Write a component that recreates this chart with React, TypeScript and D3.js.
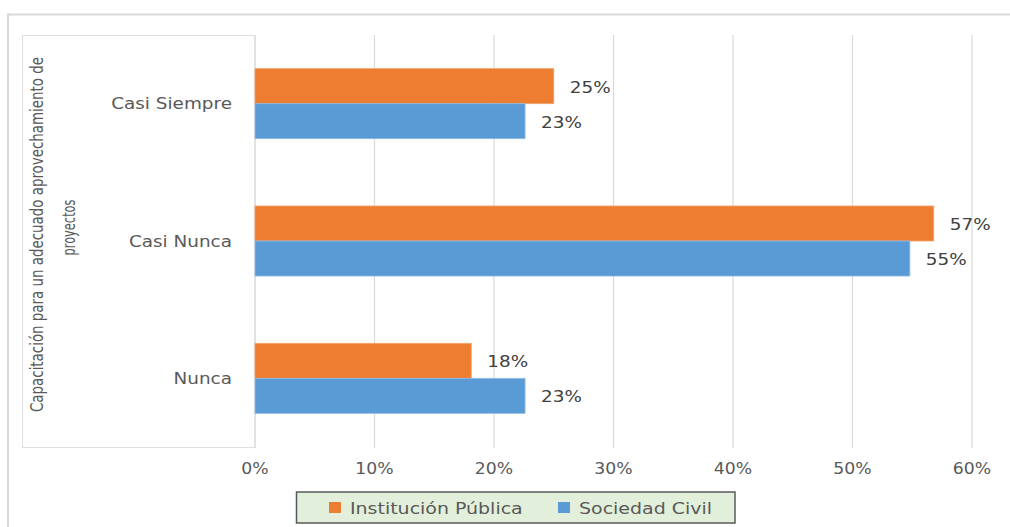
import React from "react";
import * as d3 from "d3";

const categories = ["Casi Siempre", "Casi Nunca", "Nunca"];
const seriesNames = ["Institución Pública", "Sociedad Civil"];
const institucionPublica = [0.25, 0.568, 0.181];
const sociedadCivil = [0.226, 0.548, 0.226];
const seriesColors = ["#ed7d31", "#5b9bd5"];
const xTicks = [0, 0.1, 0.2, 0.3, 0.4, 0.5, 0.6];
const titleLines = ["Capacitación para un adecuado aprovechamiento de", "proyectos"];

const W = 1010;
const H = 527;
const SX = 1.15;
const FONT = "'DejaVu Sans', Verdana, sans-serif";

function SText(props: any) {
  const { x, y, children, anchor = "start", size = 16, fill = "#595959", sx = SX } = props;
  return (
    <text
      transform={`translate(${x},${y}) scale(${sx},1)`}
      textAnchor={anchor}
      dominantBaseline="central"
      fontFamily={FONT}
      fontSize={size}
      fill={fill}
    >
      {children}
    </text>
  );
}

export default function App() {
  const x = d3.scaleLinear().domain([0, 0.6]).range([255, 972]);
  const y = d3
    .scaleBand<string>()
    .domain(categories)
    .range([35, 447])
    .paddingInner(0.49)
    .paddingOuter(0.245);
  const sub = d3.scaleBand<number>().domain([0, 1]).range([0, y.bandwidth()]);
  const pct = d3.format(".0%");
  const series = [institucionPublica, sociedadCivil];

  return (
    <div style={{ position: "fixed", left: 0, top: 0, width: W, height: H, background: "#fff" }}>
      <svg width={W} height={H} style={{ display: "block" }}>
        <rect x={0} y={0} width={W} height={H} fill="#fff" />
        {/* outer chart border */}
        <rect x={8} y={14.5} width={W + 20} height={H + 20} fill="none" stroke="#d9d9d9" strokeWidth={2} />
        {/* title frame */}
        <rect x={22.5} y={35.5} width={232.5} height={412} fill="none" stroke="#e0e0e0" strokeWidth={1} />
        {/* gridlines */}
        {xTicks.map((t) => (
          <line key={t} x1={x(t)} x2={x(t)} y1={35} y2={448} stroke="#d9d9d9" strokeWidth={1.2} />
        ))}
        {/* bars */}
        {categories.map((c, i) =>
          series.map((s, k) => (
            <rect
              key={c + k}
              x={x(0)}
              y={(y(c) as number) + (sub(k) as number)}
              width={x(s[i]) - x(0)}
              height={sub.bandwidth()}
              fill={seriesColors[k]}
              stroke={k === 0 ? "#f4a36e" : "#8fbbe6"}
              strokeWidth={0.8}
            />
          ))
        )}
        {/* data labels */}
        {categories.map((c, i) =>
          series.map((s, k) => (
            <SText
              key={"l" + c + k}
              x={x(s[i]) + 16}
              y={(y(c) as number) + (sub(k) as number) + sub.bandwidth() / 2 + 1}
              fill="#404040"
              size={16}
            >
              {pct(s[i])}
            </SText>
          ))
        )}
        {/* category labels */}
        {categories.map((c) => (
          <SText key={"c" + c} x={232} y={(y(c) as number) + y.bandwidth() / 2} anchor="end" size={16}>
            {c}
          </SText>
        ))}
        {/* x tick labels */}
        {xTicks.map((t) => (
          <SText key={"t" + t} x={x(t)} y={469} anchor="middle" size={15}>
            {pct(t)}
          </SText>
        ))}
        {/* axis title */}
        <text
          transform={`translate(43,234.5) rotate(-90) scale(1,1.1)`}
          textAnchor="middle"
          fontFamily="'Liberation Sans Narrow', 'DejaVu Sans Condensed', sans-serif"
          fontSize={16.5}
          fill="#595959"
          textLength={355}
          lengthAdjust="spacingAndGlyphs"
        >
          {titleLines[0]}
        </text>
        <text
          transform={`translate(75,227.5) rotate(-90) scale(1,1.1)`}
          textAnchor="middle"
          fontFamily="'Liberation Sans Narrow', 'DejaVu Sans Condensed', sans-serif"
          fontSize={16.5}
          fill="#595959"
          textLength={56}
          lengthAdjust="spacingAndGlyphs"
        >
          {titleLines[1]}
        </text>
        {/* legend */}
        <rect x={296.5} y={492} width={438.5} height={31} fill="#e2efda" stroke="#595959" strokeWidth={1.5} />
        {seriesNames.map((n, k) => {
          const sqx = [329, 558][k];
          return (
            <g key={n}>
              <rect x={sqx} y={502} width={12} height={11} fill={seriesColors[k]} />
              <SText x={sqx + 21} y={507.5} size={16.5}>
                {n}
              </SText>
            </g>
          );
        })}
      </svg>
    </div>
  );
}
